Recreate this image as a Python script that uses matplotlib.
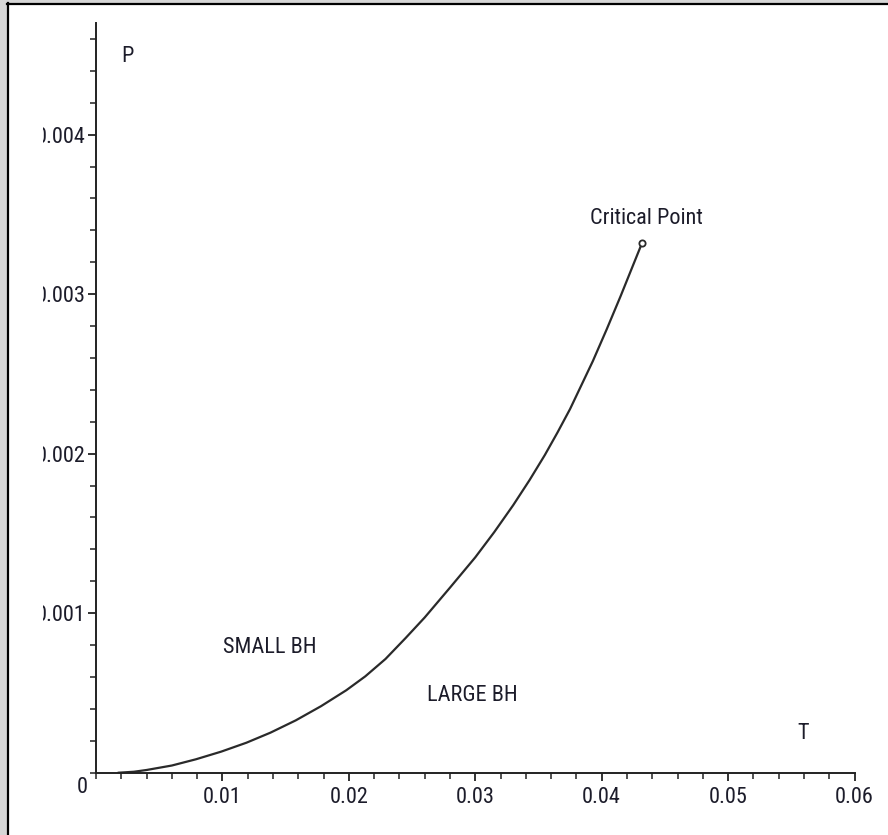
"""P-T phase diagram: small/large black hole coexistence line."""

import matplotlib
matplotlib.use("Agg")
import matplotlib.pyplot as plt
import matplotlib.font_manager as fm
from matplotlib.patches import Rectangle
from matplotlib.lines import Line2D
from matplotlib.transforms import Bbox
from matplotlib.ticker import MultipleLocator

# coexistence curve
T = [0.0018, 0.0030, 0.0040, 0.0060, 0.0079, 0.0099, 0.0119, 0.0138,
     0.0158, 0.0178, 0.0198, 0.0213, 0.0229, 0.0245, 0.0260, 0.0280,
     0.0300, 0.0315, 0.0330, 0.0343, 0.0355, 0.0365, 0.0375, 0.0384,
     0.0393, 0.0404, 0.0415, 0.0424, 0.0432]
P = [0.0, 0.000006, 0.000017, 0.000045, 0.000084, 0.000132, 0.000188,
     0.000251, 0.000328, 0.000417, 0.000517, 0.000604, 0.000713, 0.000845,
     0.000973, 0.001160, 0.001350, 0.001508, 0.001677, 0.001835, 0.001991,
     0.002132, 0.002280, 0.002430, 0.002580, 0.002780, 0.002988, 0.003165,
     0.003322]

x_ticks = [0.01, 0.02, 0.03, 0.04, 0.05, 0.06]
x_labels = ["0.01", "0.02", "0.03", "0.04", "0.05", "0.06"]
y_ticks = [0.001, 0.002, 0.003, 0.004]
y_labels = ["0.001", "0.002", "0.003", "0.004"]

INK = "#1c1c2a"
W, H = 888, 835


def narrow_font(size):
    # the original uses an Arial-Narrow-like face; take the closest installed
    order = [("Liberation Sans Narrow", None), ("Arial Narrow", None),
             ("Roboto Condensed", None), ("Noto Sans", "condensed"),
             ("Noto Sans Condensed", None), ("Open Sans", "condensed"),
             ("Open Sans Condensed", None), ("DejaVu Sans", "condensed"),
             ("DejaVu Sans Condensed", None)]
    for name, stretch in order:
        for f in fm.fontManager.ttflist:
            if f.name != name or f.style != "normal" or f.weight not in (400, "normal"):
                continue
            if stretch is not None and f.stretch != stretch:
                continue
            return fm.FontProperties(fname=f.fname, size=size)
    return fm.FontProperties(family=["Liberation Sans", "DejaVu Sans"], size=size)


fp = narrow_font(16)

fig = plt.figure(figsize=(W / 100, H / 100), dpi=100, facecolor="white")
ax = fig.add_axes([96 / W, 1 - 772.7 / H, (854.5 - 96) / W, (772.7 - 23) / H])

# window frame: grey margin + black edge on left/top
fig.add_artist(Rectangle((0, 0), 7 / W, 1, transform=fig.transFigure,
                         color="#d6d6d6", lw=0))
fig.add_artist(Rectangle((0, 1 - 3 / H), 1, 3 / H, transform=fig.transFigure,
                         color="#d6d6d6", lw=0))
fig.add_artist(Line2D([8 / W, 8 / W], [0, 1 - 3 / H], transform=fig.transFigure,
                      color="black", lw=1.6))
fig.add_artist(Line2D([7 / W, 1], [1 - 4 / H, 1 - 4 / H], transform=fig.transFigure,
                      color="black", lw=1.6))

ax.plot(T, P, color="#2a2a2a", lw=1.6, solid_joinstyle="round")
ax.plot(T[-1], P[-1], "o", ms=4.5, mfc="white", mec="#2a2a2a", mew=1.3)

ax.set_xlim(0, 0.06)
ax.set_ylim(0, 0.0047)
for s in ("top", "right"):
    ax.spines[s].set_visible(False)
for s in ("left", "bottom"):
    ax.spines[s].set_linewidth(1.4)
    ax.spines[s].set_color("#222222")

ax.set_xticks(x_ticks, x_labels)
ax.set_yticks(y_ticks, y_labels)
ax.xaxis.set_minor_locator(MultipleLocator(0.002))
ax.yaxis.set_minor_locator(MultipleLocator(0.0002))
ax.tick_params(which="major", length=6, width=1.3, color="#222222", pad=4,
               labelcolor=INK)
ax.tick_params(axis="y", which="major", pad=1.5)
ax.tick_params(which="minor", length=4, width=1.1, color="#222222")
for lab in ax.get_xticklabels() + ax.get_yticklabels():
    lab.set_fontproperties(fp)

txt = dict(fontproperties=fp, color=INK, ha="center", va="center")
ax.annotate("0", (0, 0), xytext=(-10, -11), textcoords="offset points",
            annotation_clip=False, **txt)
ax.text(0.00245, 0.00449, "P", **txt)
ax.text(0.0559, 0.000243, "T", **txt)
ax.text(0.01377, 0.000782, "SMALL BH", **txt)
ax.text(0.02975, 0.000484, "LARGE BH", **txt)
ax.text(0.04357, 0.003477, "Critical Point", **txt)

# the source cropped the y labels through their leading "0" and the x labels
# at the bottom edge
fig.canvas.draw()
for lab in ax.get_yticklabels():
    bb = lab.get_window_extent()
    cut = bb.x0 + 0.15 * bb.width
    lab.set_clip_box(Bbox.from_extents(cut, 0, W, H))
    lab.set_clip_on(True)
for lab in ax.get_xticklabels():
    bb = lab.get_window_extent()
    lab.set_clip_box(Bbox.from_extents(0, bb.y0 + 0.12 * bb.height, W, H))
    lab.set_clip_on(True)

fig.savefig("out.png", dpi=100, facecolor="white")
